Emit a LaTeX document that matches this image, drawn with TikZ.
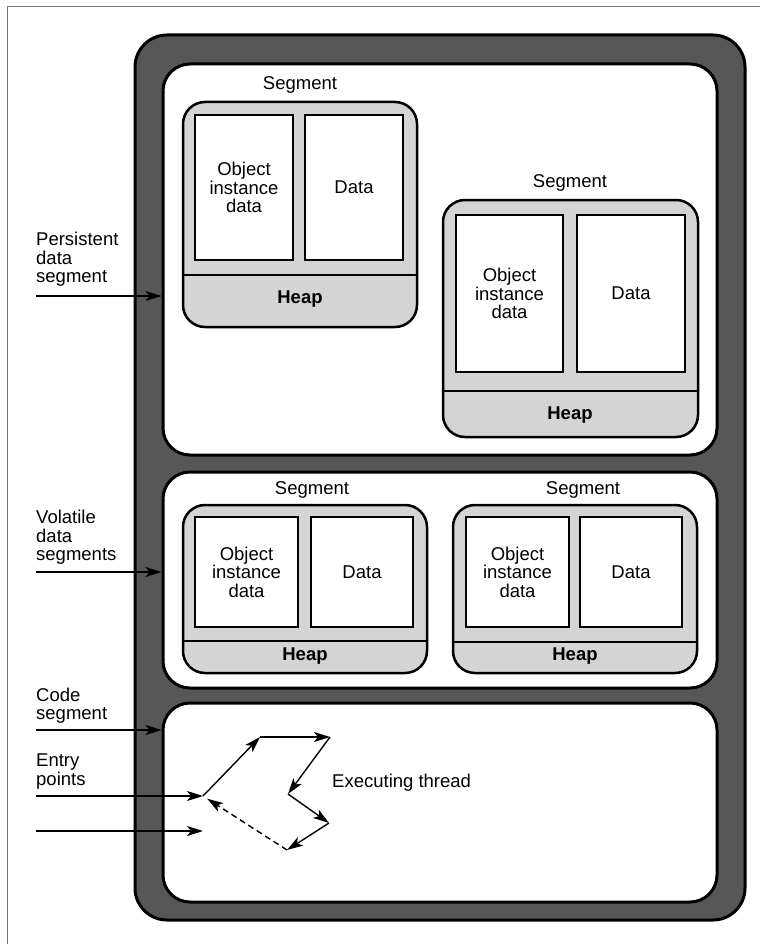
\documentclass[tikz,border=0pt]{standalone}
\usepackage{fontspec}
\setmainfont{Liberation Sans}
\usetikzlibrary{arrows.meta}
\definecolor{band}{gray}{0.34}
\definecolor{segfill}{gray}{0.83}
\begin{document}
\begin{tikzpicture}[x=1pt,y=-1pt,
  every node/.style={font=\fontsize{18.5}{18.5}\selectfont},
  frame/.style={draw=black,line width=3pt,fill=band,rounded corners=32pt},
  panel/.style={draw=black,line width=3pt,fill=white,rounded corners=27pt},
  segbox/.style={draw=black,line width=2.5pt,fill=segfill,rounded corners=22pt},
  cell/.style={draw=black,line width=2.2pt,fill=white,align=center},
  divline/.style={line width=2pt},
  heaplbl/.style={font=\fontsize{18.5}{18.5}\selectfont\bfseries},
  sidelbl/.style={anchor=north west,inner sep=0pt,align=left},
  arr/.style={line width=1.4pt,-{Stealth[length=16pt,width=10pt,inset=4pt]}},
  pagerule/.style={draw=black!55,line width=0.6pt}
]
\useasboundingbox (0,0) rectangle (763,944);
% page rules
\coordinate (pgA) at (7,944);
\coordinate (pgB) at (7,6);
\coordinate (pgC) at (760,6);
\draw[pagerule] (pgA) -- (pgB) -- (pgC);

% outer frame and panels
\node[frame,minimum width=610pt,minimum height=885pt] (outer) at (440,477.5) {};
\node[panel,minimum width=554pt,minimum height=391pt] (pp) at (440,259.5) {};
\node[panel,minimum width=554pt,minimum height=216pt] (vp) at (440,580) {};
\node[panel,minimum width=554pt,minimum height=199pt] (cp) at (440,802.5) {};

% persistent segment 1
\node (s1l) at (300,85) {Segment};
\node[segbox,minimum width=234pt,minimum height=225pt] (s1) at (300,214.5) {};
\draw[divline] (s1.west |- 0,275) -- (s1.east |- 0,275);
\node[cell,minimum width=98pt,minimum height=145pt] (s1o) at (244,187.5) {Object\\instance\\data};
\node[cell,minimum width=98pt,minimum height=145pt] (s1d) at (354,187.5) {Data};
\node[heaplbl] (s1h) at (300,299) {Heap};

% persistent segment 2
\node (s2l) at (570,183) {Segment};
\node[segbox,minimum width=255pt,minimum height=237pt] (s2) at (570.5,318.5) {};
\draw[divline] (s2.west |- 0,391) -- (s2.east |- 0,391);
\node[cell,minimum width=107pt,minimum height=157pt] (s2o) at (509.5,293.5) {Object\\instance\\data};
\node[cell,minimum width=108pt,minimum height=157pt] (s2d) at (631,293.5) {Data};
\node[heaplbl] (s2h) at (570,415) {Heap};

% volatile segment 1
\node (v1l) at (312,490) {Segment};
\node[segbox,minimum width=244pt,minimum height=168pt] (v1) at (305,589) {};
\draw[divline] (v1.west |- 0,641) -- (v1.east |- 0,641);
\node[cell,minimum width=103pt,minimum height=110pt] (v1o) at (246.5,572) {Object\\instance\\data};
\node[cell,minimum width=102pt,minimum height=110pt] (v1d) at (362,572) {Data};
\node[heaplbl] (v1h) at (305,656) {Heap};

% volatile segment 2
\node (v2l) at (583,490) {Segment};
\node[segbox,minimum width=244pt,minimum height=168pt] (v2) at (575,589) {};
\draw[divline] (v2.west |- 0,642) -- (v2.east |- 0,642);
\node[cell,minimum width=103pt,minimum height=110pt] (v2o) at (517.5,572) {Object\\instance\\data};
\node[cell,minimum width=102pt,minimum height=110pt] (v2d) at (631,572) {Data};
\node[heaplbl] (v2h) at (575,656) {Heap};

% side labels
\node[sidelbl] (lpers) at (36,232) {Persistent\\data\\segment};
\node[sidelbl] (lvol) at (36,510) {Volatile\\data\\segments};
\node[sidelbl] (lcode) at (36,687.5) {Code\\segment};
\node[sidelbl] (lentry) at (36,754) {Entry\\points};

\coordinate (inP) at (36,296);
\coordinate (inV) at (36,572);
\coordinate (inC) at (36,730);
\coordinate (inE1) at (36,796);
\coordinate (inE2) at (36,831);
\draw[arr] (inP) -- (inP -| pp.west);
\draw[arr] (inV) -- (inV -| vp.west);
\draw[arr] (inC) -- (inC -| cp.west);

% executing thread
\coordinate (tA) at (203,796);
\coordinate (tA2) at (203,831);
\coordinate (tB) at (260,737);
\coordinate (tC) at (330,737);
\coordinate (tD) at (288,794);
\coordinate (tE) at (329,823);
\coordinate (tF) at (287,850);
\draw[arr] (inE1) -- (tA);
\draw[arr] (inE2) -- (tA2);
\draw[arr] (tA) -- (tB);
\draw[arr] (tB) -- (tC);
\draw[arr] (tC) -- (tD);
\draw[arr] (tD) -- (tE);
\draw[arr] (tE) -- (tF);
\draw[arr,dash pattern=on 6pt off 4pt,shorten >=5pt] (tF) -- (tA);
\node[anchor=base west,inner sep=0pt] (thr) at (332,787) {Executing thread};
\end{tikzpicture}
\end{document}
